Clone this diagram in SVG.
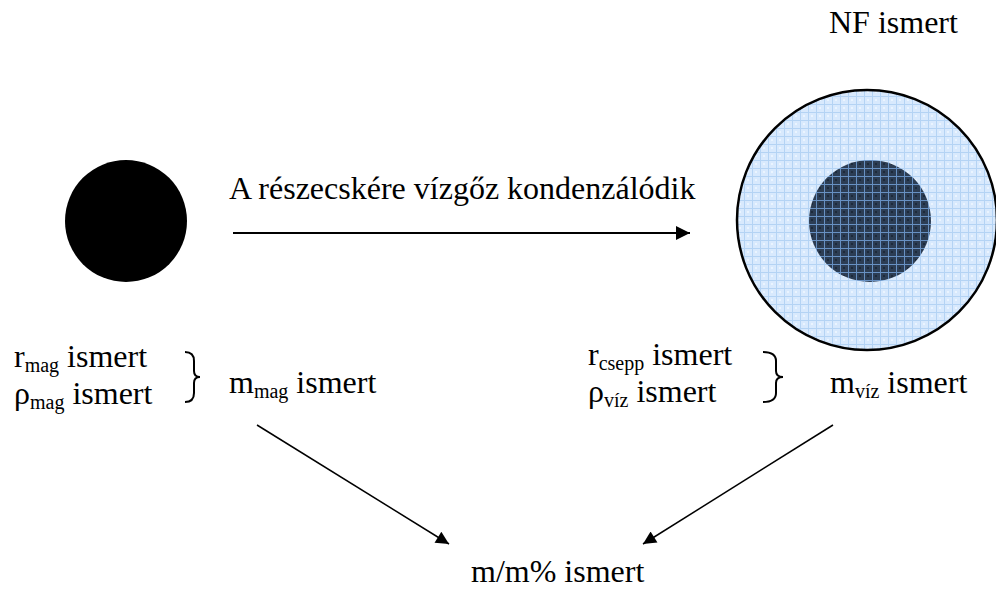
<svg xmlns="http://www.w3.org/2000/svg" width="996" height="589" viewBox="0 0 996 589" font-family="'Liberation Serif','Times New Roman',serif">
<style>
text{font-family:"Liberation Serif","Times New Roman",serif;font-size:32px;fill:#000}
.sub{font-size:20px}
.conn{stroke:#000;fill:none}
.brace{stroke:#000;stroke-width:2;fill:none}
</style>
<defs>
<marker id="ah" viewBox="0 0 10 10" refX="10" refY="5" markerWidth="15" markerHeight="14" markerUnits="userSpaceOnUse" orient="auto">
<path d="M0,0 L10,5 L0,10 z" fill="#000"/>
</marker>
<marker id="ah2" viewBox="0 0 10 10" refX="10" refY="5" markerWidth="16" markerHeight="13" markerUnits="userSpaceOnUse" orient="auto">
<path d="M0,0 L10,5 L0,10 z" fill="#000"/>
</marker>
<pattern id="light" width="8" height="8" patternUnits="userSpaceOnUse">
<rect width="8" height="8" fill="#d8e9fd"/>
<path d="M0,0.5H8M0.5,0V8" stroke="#b4d3f4" stroke-width="1"/>
<rect x="3" y="3" width="2" height="2" fill="#eaf4ff"/>
</pattern>
<pattern id="dark" width="8" height="8" patternUnits="userSpaceOnUse">
<rect width="8" height="8" fill="#2c3d54"/>
<path d="M0,0.5H8M0.5,0V8" stroke="#6790c2" stroke-width="1"/>
<rect x="3" y="3" width="2" height="2" fill="#1d2a3b"/>
</pattern>
</defs>
<rect width="996" height="589" fill="#fff"/>
<g id="core">
<circle cx="126" cy="221" r="61" fill="#000"/>
</g>
<g id="droplet">
<circle cx="867" cy="220" r="130" fill="url(#light)" stroke="#000" stroke-width="2.5"/>
<circle cx="870" cy="221" r="61" fill="url(#dark)"/>
</g>
<g id="nf-label"><text x="829" y="33">NF ismert</text></g>
<g id="process-label"><text x="229" y="199">A részecskére vízgőz kondenzálódik</text></g>
<g id="left-labels">
<text x="14" y="367">r<tspan class="sub" dy="5">mag</tspan><tspan dy="-5"> ismert</tspan></text>
<text x="14" y="404">ρ<tspan class="sub" dy="5">mag</tspan><tspan dy="-5"> ismert</tspan></text>
<path class="brace" d="M185,352 Q194,352 194,361 L194,371 Q194,377 200,377 Q194,377 194,383 L194,393 Q194,402 185,402"/>
<text x="229" y="393">m<tspan class="sub" dy="5">mag</tspan><tspan dy="-5"> ismert</tspan></text>
</g>
<g id="right-labels">
<text x="588" y="365">r<tspan class="sub" dy="5">csepp</tspan><tspan dy="-5"> ismert</tspan></text>
<text x="588" y="402">ρ<tspan class="sub" dy="5">víz</tspan><tspan dy="-5"> ismert</tspan></text>
<path class="brace" d="M763,352 Q776,352 776,361 L776,371 Q776,377 783,377 Q776,377 776,383 L776,393 Q776,402 763,402"/>
<text x="830" y="393">m<tspan class="sub" dy="5">víz</tspan><tspan dy="-5"> ismert</tspan></text>
</g>
<g id="result"><text x="471" y="582">m/m% ismert</text></g>
<g id="connectors">
<line class="conn" x1="233" y1="233" x2="690" y2="233" stroke-width="2" marker-end="url(#ah)"/>
<line class="conn" x1="257" y1="425" x2="449" y2="544" stroke-width="1.5" marker-end="url(#ah2)"/>
<line class="conn" x1="833" y1="425" x2="643" y2="544" stroke-width="1.5" marker-end="url(#ah2)"/>
</g>
</svg>
